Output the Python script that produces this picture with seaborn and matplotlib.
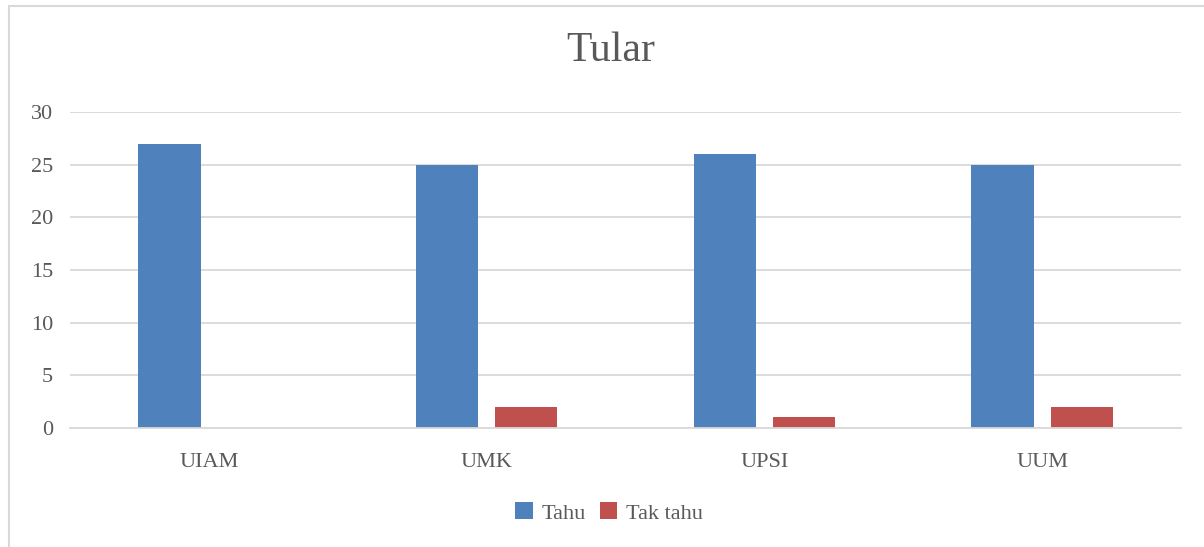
import pandas as pd
import numpy as np
import matplotlib.pyplot as plt
import seaborn as sns
from matplotlib.patches import Rectangle

# Data
universities = ['UIAM', 'UMK', 'UPSI', 'UUM']
tahu = [27, 25, 26, 25]
tak_tahu = [0, 2, 1, 2]
series_names = ['Tahu', 'Tak tahu']
colors = ['#4F81BD', '#C0504D']

df = pd.DataFrame({
    'universiti': universities * 2,
    'jawapan': [series_names[0]] * len(universities) + [series_names[1]] * len(universities),
    'bilangan': tahu + tak_tahu,
})

sns.set_style('white')
plt.rcParams['font.family'] = ['Liberation Serif', 'DejaVu Serif']

fig = plt.figure(figsize=(12.04, 5.47), dpi=100)
ax = fig.add_axes([0.0581, 0.2176, 0.9229, 0.5776])

sns.barplot(data=df, x='universiti', y='bilangan', hue='jawapan',
            palette=colors, width=0.57, gap=0.21, ax=ax, legend=True,
            saturation=1, linewidth=0)

ax.set_ylim(0, 30)
ax.set_yticks(range(0, 31, 5))
ax.set_xlim(-0.5, 3.5)
ax.yaxis.grid(True, color='#D9D9D9', linewidth=1.3)
ax.set_axisbelow(True)
for s in ['top', 'right', 'left']:
    ax.spines[s].set_visible(False)
ax.spines['bottom'].set_color('#D9D9D9')
ax.spines['bottom'].set_linewidth(1.3)
ax.tick_params(axis='both', length=0, labelsize=16, labelcolor='#595959')
ax.tick_params(axis='x', pad=18)
ax.tick_params(axis='y', pad=12)
ax.set_xlabel('')
ax.set_ylabel('')

handles, labels = ax.get_legend_handles_labels()
ax.get_legend().remove()
fig.legend(handles, labels, loc='center', bbox_to_anchor=(0.506, 0.062), ncol=2,
           frameon=False, fontsize=16, handlelength=0.8, handleheight=0.8,
           handletextpad=0.4, columnspacing=0.6, labelcolor='#595959')

fig.text(0.507, 0.908, 'Tular', ha='center', va='center', fontsize=30, color='#595959')

# chart area border
fig.patches.append(Rectangle((9 / 1204, -0.1), 1.2, 1 - 6 / 547 + 0.1,
                             transform=fig.transFigure, fill=False,
                             edgecolor='#D9D9D9', linewidth=1.5))

fig.savefig('out.png', dpi=100)
